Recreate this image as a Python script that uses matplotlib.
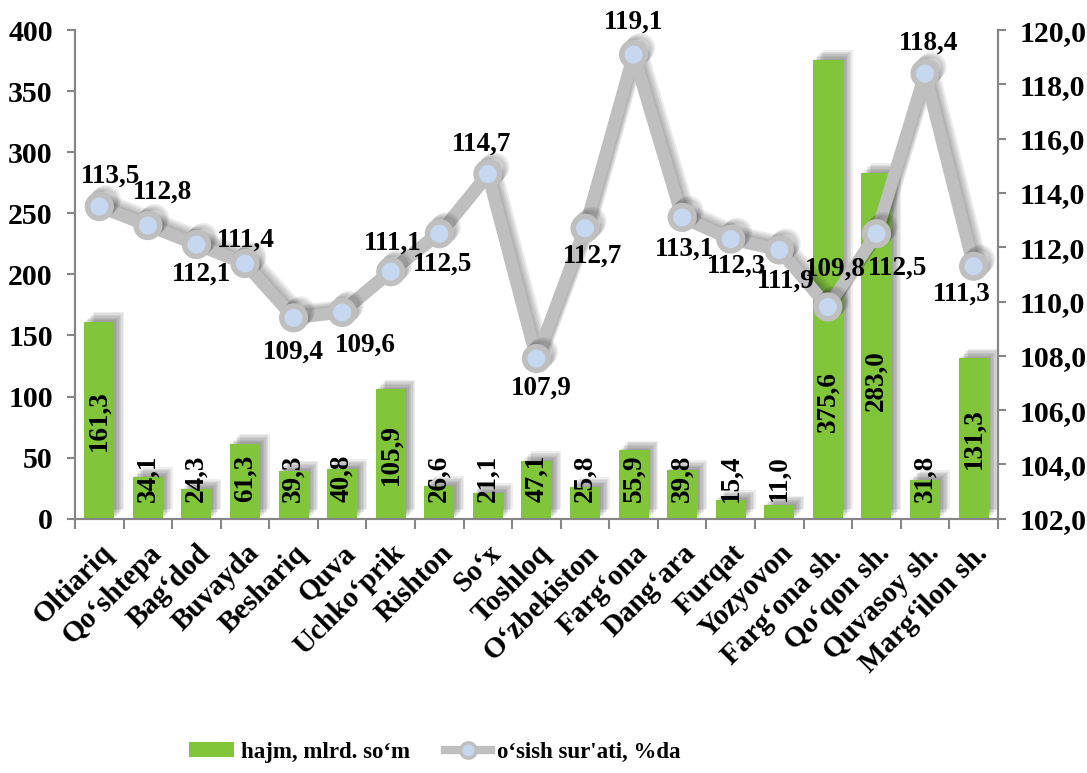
import matplotlib
matplotlib.use('Agg')
import matplotlib.pyplot as plt
import matplotlib.patheffects as pe
from matplotlib.lines import Line2D
from matplotlib.patches import Patch
from matplotlib.ticker import FuncFormatter, FixedLocator, NullFormatter

plt.rcParams['font.family'] = ['Liberation Serif', 'DejaVu Serif']
plt.rcParams['font.weight'] = 'bold'

districts = ['Oltiariq', 'Qo‘shtepa', 'Bag‘dod', 'Buvayda', 'Beshariq', 'Quva',
             'Uchko‘prik', 'Rishton', 'So‘x', 'Toshloq', 'O‘zbekiston', 'Farg‘ona',
             'Dang‘ara', 'Furqat', 'Yozyovon', 'Farg‘ona sh.', 'Qo‘qon sh.',
             'Quvasoy sh.', 'Marg‘ilon sh.']
volume = [161.3, 34.1, 24.3, 61.3, 39.3, 40.8, 105.9, 26.6, 21.1, 47.1,
          25.8, 55.9, 39.8, 15.4, 11.0, 375.6, 283.0, 31.8, 131.3]
growth = [113.5, 112.8, 112.1, 111.4, 109.4, 109.6, 111.1, 112.5, 114.7, 107.9,
          112.7, 119.1, 113.1, 112.3, 111.9, 109.8, 112.5, 118.4, 111.3]

# label placement (pixels, image y downwards) for the growth line labels
growth_lbl_off = [(11, -30), (15, -33), (5, 30), (1, -23), (0, 34), (23, 33),
                  (2, -29), (3, 30), (-6, -30), (5, 30), (7, 28), (0, -32),
                  (2, 32), (6, 27), (7, 31), (7, -38), (21, 34), (4, -30), (-12, 28)]

GREEN = '#80c53a'
GRAY = '#bfbfbf'
AXCOL = '#868686'

fig = plt.figure(figsize=(10.87, 7.73), dpi=100)
ax = fig.add_axes([0.069, 0.329, 0.849, 0.632])
ax2 = ax.twinx()

x = list(range(len(districts)))
# soft shadow up-right of the bars
shadow = [pe.SimplePatchShadow(offset=(k, k), shadow_rgbFace='#404040', alpha=0.09)
          for k in (1, 2, 3, 4, 5, 6, 7)] + [pe.Normal()]
bars = ax.bar(x, volume, width=0.62, color=GREEN, zorder=2)
for b in bars:
    b.set_path_effects(shadow)

for i, v in enumerate(volume):
    yc = max(v / 2, 33)
    if v > 350:
        yc = 96
    elif v > 250:
        yc = 113
    ax.text(i, yc, f'{v:.1f}'.replace('.', ','), rotation=90, ha='center', va='center',
            fontsize=19.5, fontweight='bold', zorder=5)

ax.set_xlim(-0.5, len(districts) - 0.5)
ax.set_ylim(0, 400)
ax.set_yticks(range(0, 401, 50))
ax2.set_ylim(102, 120)
ax2.set_yticks([102 + 2 * k for k in range(10)])
ax2.yaxis.set_major_formatter(FuncFormatter(lambda v, p: f'{v:.1f}'.replace('.', ',')))

line_shadow = [pe.SimpleLineShadow(offset=(k, k), shadow_color='#202020', alpha=0.08)
               for k in (1, 2, 3, 4, 5)] + [pe.Normal()]
ln, = ax2.plot(x, growth, color=GRAY, lw=9, marker='o', markersize=17,
               markerfacecolor='#c6d7f0', markeredgecolor=GRAY, markeredgewidth=4,
               zorder=3, solid_joinstyle='round')
ln.set_path_effects(line_shadow)

for i, g in enumerate(growth):
    dx, dy = growth_lbl_off[i]
    ax2.annotate(f'{g:.1f}'.replace('.', ','), (i, g), xytext=(dx, -dy),
                 textcoords='offset pixels', ha='center', va='center',
                 fontsize=19.5, fontweight='bold', zorder=6)

# x ticks at category boundaries
ax.set_xticks(x)
ax.set_xticklabels(districts, rotation=45, ha='right', rotation_mode='anchor',
                   fontsize=21, fontweight='bold')
ax.tick_params(axis='x', which='major', length=0, pad=15)
ax.xaxis.set_minor_locator(FixedLocator([k - 0.5 for k in range(len(districts) + 1)]))
ax.xaxis.set_minor_formatter(NullFormatter())
ax.tick_params(axis='x', which='minor', length=7, width=1.5, color=AXCOL)
ax.tick_params(axis='y', length=6, width=1.5, color=AXCOL, labelsize=21.5, pad=10)
ax2.tick_params(axis='y', length=6, width=1.5, color=AXCOL, labelsize=21.5, pad=10)
for lbl in ax.get_yticklabels() + ax2.get_yticklabels():
    lbl.set_fontweight('bold')

for a in (ax, ax2):
    a.spines['top'].set_visible(False)
    for s in ('left', 'right', 'bottom'):
        a.spines[s].set_color(AXCOL)
        a.spines[s].set_linewidth(1.5)

handles = [Patch(facecolor=GREEN, edgecolor='none'),
           Line2D([0], [0], color=GRAY, lw=6, marker='o', markersize=11,
                  markerfacecolor='#c6d7f0', markeredgecolor=GRAY, markeredgewidth=2.5)]
fig.legend(handles, ['hajm, mlrd. so‘m', 'o‘sish sur\'ati, %da'], loc='center',
           bbox_to_anchor=(0.40, 0.027), ncol=2, frameon=False,
           prop={'family': 'Liberation Serif', 'weight': 'bold', 'size': 16.5},
           handlelength=2.0, handleheight=0.6, handletextpad=0.3, columnspacing=1.5)

fig.savefig('out.png', dpi=100)
